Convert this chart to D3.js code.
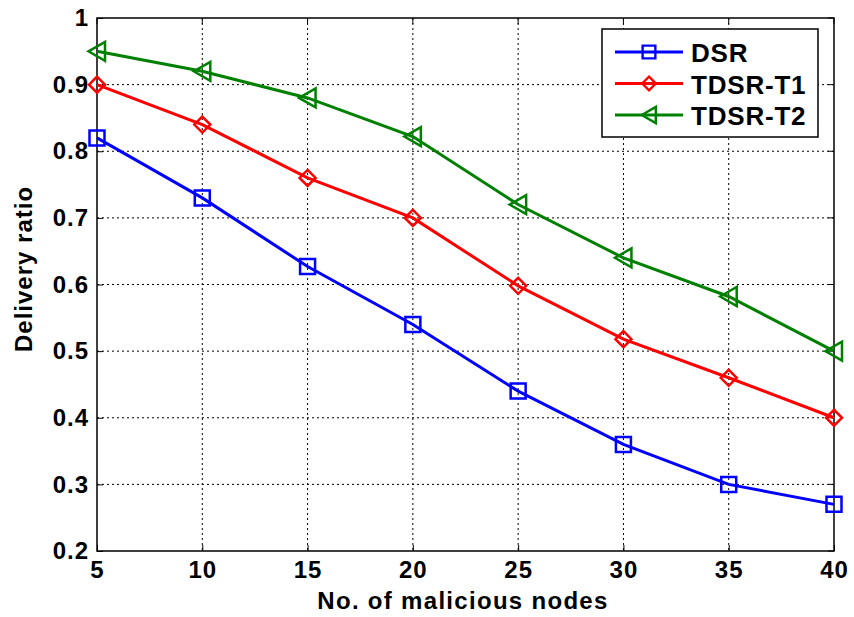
<!DOCTYPE html>
<html>
<head>
<meta charset="utf-8">
<script src="https://cdn.jsdelivr.net/npm/d3@7"></script>
<style>
  html, body { margin: 0; padding: 0; background: #fff; }
  svg { display: block; }
  text { font-family: "Liberation Sans", Arial, sans-serif; font-weight: bold; fill: #000; }
</style>
</head>
<body>
<div id="chart"></div>
<script>
// Number of malicious nodes on the x axis
const nodes = [5, 10, 15, 20, 25, 30, 35, 40];
// Delivery ratio for each protocol
const dsr    = [0.82, 0.73, 0.627, 0.54, 0.44, 0.36, 0.30, 0.27];
const tdsrT1 = [0.90, 0.84, 0.76, 0.70, 0.598, 0.518, 0.46, 0.40];
const tdsrT2 = [0.95, 0.92, 0.88, 0.822, 0.72, 0.64, 0.582, 0.50];
const seriesNames = ["DSR", "TDSR-T1", "TDSR-T2"];
const seriesColors = ["#0000ff", "#ff0000", "#008000"];
const seriesMarkers = ["square", "diamond", "triangleLeft"];
const xTicks = [5, 10, 15, 20, 25, 30, 35, 40];
const yTicks = [0.2, 0.3, 0.4, 0.5, 0.6, 0.7, 0.8, 0.9, 1];

const W = 854, H = 617;
const m = { left: 97, right: 20, top: 18, bottom: 66 };
const iw = W - m.left - m.right, ih = H - m.top - m.bottom;

const svg = d3.select("#chart").append("svg").attr("width", W).attr("height", H);
const g = svg.append("g").attr("transform", `translate(${m.left},${m.top})`);

const x = d3.scaleLinear().domain([5, 40]).range([0, iw]);
const y = d3.scaleLinear().domain([0.2, 1]).range([ih, 0]);

// dotted grid
const grid = g.append("g");
xTicks.slice(1, -1).forEach(t => {
  grid.append("line").attr("x1", x(t)).attr("x2", x(t)).attr("y1", 0).attr("y2", ih)
    .attr("stroke", "#000").attr("stroke-width", 1).attr("stroke-dasharray", "2,3");
});
yTicks.slice(1, -1).forEach(t => {
  grid.append("line").attr("x1", 0).attr("x2", iw).attr("y1", y(t)).attr("y2", y(t))
    .attr("stroke", "#000").attr("stroke-width", 1).attr("stroke-dasharray", "2,3");
});

// axes with inward ticks
const xAxis = g.append("g").attr("transform", `translate(0,${ih})`)
  .call(d3.axisBottom(x).tickValues(xTicks).tickSize(-6).tickPadding(10).tickFormat(d3.format("d")));
const yAxis = g.append("g")
  .call(d3.axisLeft(y).tickValues(yTicks).tickSize(-6).tickPadding(8).tickFormat(d => d === 1 ? "1" : d3.format(".1f")(d)));
[xAxis, yAxis].forEach(a => {
  a.select(".domain").remove();
  a.selectAll("line").attr("stroke", "#000").attr("stroke-width", 1);
  a.selectAll("text").style("font-size", "24px").style("letter-spacing", "1px")
    .style("font-family", "'Liberation Sans', Arial, sans-serif").style("font-weight", "bold").attr("fill", "#000");
});
// top/right ticks
const tk = g.append("g");
xTicks.forEach(t => tk.append("line").attr("x1", x(t)).attr("x2", x(t)).attr("y1", 0).attr("y2", 6).attr("stroke", "#000"));
yTicks.forEach(t => tk.append("line").attr("x1", iw).attr("x2", iw - 6).attr("y1", y(t)).attr("y2", y(t)).attr("stroke", "#000"));

// frame
g.append("rect").attr("x", 0).attr("y", 0).attr("width", iw).attr("height", ih)
  .attr("fill", "none").attr("stroke", "#000").attr("stroke-width", 1.5);

// marker shapes
function markerPath(type) {
  if (type === "square") return "M-7.5,-7.5H7.5V7.5H-7.5Z";
  if (type === "diamond") return "M0,-8L8,0L0,8L-8,0Z";
  return "M-8.5,0L8,-9.5L8,9.5Z";
}

const data = [dsr, tdsrT1, tdsrT2];
const line = d3.line().x((d, i) => x(nodes[i])).y(d => y(d));
data.forEach((vals, k) => {
  g.append("path").datum(vals).attr("d", line).attr("fill", "none")
    .attr("stroke", seriesColors[k]).attr("stroke-width", 3);
  g.selectAll(null).data(vals).enter().append("path")
    .attr("transform", (d, i) => `translate(${x(nodes[i])},${y(d)})`)
    .attr("d", markerPath(seriesMarkers[k]))
    .attr("fill", "none").attr("stroke", seriesColors[k]).attr("stroke-width", 2.5);
});

// legend
const lg = svg.append("g").attr("transform", "translate(602,29)");
lg.append("rect").attr("width", 216).attr("height", 108).attr("fill", "#fff")
  .attr("stroke", "#000").attr("stroke-width", 1.5);
seriesNames.forEach((name, k) => {
  const yy = 23 + k * 31.5;
  lg.append("line").attr("x1", 13).attr("x2", 81).attr("y1", yy).attr("y2", yy)
    .attr("stroke", seriesColors[k]).attr("stroke-width", 3);
  lg.append("path").attr("transform", `translate(47,${yy}) scale(0.85)`).attr("d", markerPath(seriesMarkers[k]))
    .attr("fill", "none").attr("stroke", seriesColors[k]).attr("stroke-width", 2.8);
  lg.append("text").attr("x", 89).attr("y", yy + 10).style("font-size", "26px").style("letter-spacing", "0.8px").text(name);
});

// axis titles
svg.append("text").attr("x", 463).attr("y", 609).attr("text-anchor", "middle")
  .style("font-size", "24px").style("letter-spacing", "1.3px").text("No. of malicious nodes");
svg.append("text").attr("transform", "translate(32,352) rotate(-90)").attr("text-anchor", "start")
  .style("font-size", "24px").style("letter-spacing", "1px").text("Delivery ratio");
</script>
</body>
</html>
